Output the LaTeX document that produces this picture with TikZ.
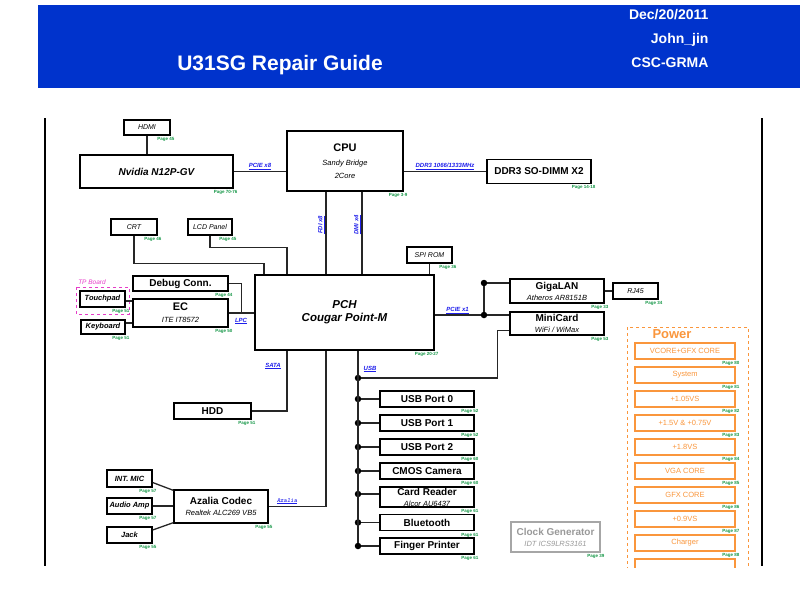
\documentclass[tikz,border=0pt]{standalone}
\usepackage{fontspec}
\setmainfont{Liberation Sans}
\usetikzlibrary{positioning, calc}
\definecolor{hdrblue}{RGB}{0,51,204}
\definecolor{pggreen}{RGB}{20,150,70}
\definecolor{pwrorange}{RGB}{250,150,60}
\definecolor{busblue}{RGB}{30,30,235}
\definecolor{tpmag}{RGB}{230,60,200}
\newcommand{\subt}[1]{{\fontsize{7.5}{8.5}\selectfont\mdseries\itshape #1}}
\tikzset{
  blk/.style    = {draw, line width=1.3pt, fill=white, inner sep=0pt,
                   align=center, font=\fontsize{10}{11}\selectfont\bfseries},
  small/.style  = {blk, font=\fontsize{7}{8}\selectfont\itshape},
  smallb/.style = {blk, font=\fontsize{7.5}{8}\selectfont\bfseries\itshape},
  pg/.style     = {font=\fontsize{4.5}{5}\selectfont\bfseries, text=pggreen,
                   inner sep=0pt, anchor=north east},
  bus/.style    = {font=\fontsize{6}{7}\selectfont\bfseries\itshape,
                   text=busblue, inner sep=1pt},
  wire/.style   = {line width=1.3pt, draw=black!85},
  jdot/.style   = {circle, fill=black, minimum size=6.5pt, inner sep=0pt},
  pwr/.style    = {draw=pwrorange, line width=1.1pt, fill=white,
                   minimum width=100pt, minimum height=16pt, inner sep=0pt,
                   font=\fontsize{7.5}{8}\selectfont, text=pwrorange},
  usbbox/.style = {blk, minimum width=94pt, minimum height=16pt},
}
\begin{document}
\begin{tikzpicture}[x=1pt, y=-1pt]
  \useasboundingbox (0,0) rectangle (800,600);

  % ---------------------------------------------------------------
  % header band
  % ---------------------------------------------------------------
  \fill[hdrblue] (38,5) rectangle (800,88);
  \node[font=\fontsize{21}{22}\selectfont\bfseries, text=white] (title)
    at (280,65) {U31SG Repair Guide};
  \node[font=\fontsize{14}{24}\selectfont\bfseries, text=white,
        align=right, anchor=east] (info) at (712,38)
    {Dec/20/2011\\John\_jin\\CSC-GRMA};

  % frame lines
  \draw[line width=1.3pt] (45,118) -- (45,566);
  \draw[line width=1.3pt] (762,118) -- (762,566);

  % ---------------------------------------------------------------
  % CPU / GPU / memory
  % ---------------------------------------------------------------
  \node[small, minimum width=46pt, minimum height=15pt] (hdmi) at (147,127.5) {HDMI};
  \node[blk, font=\fontsize{10}{11}\selectfont\bfseries\itshape,
        minimum width=153pt, minimum height=33pt] (gpu) at (156.5,171.5) {Nvidia N12P-GV};
  \node[blk, font=\fontsize{11}{12}\selectfont\bfseries,
        minimum width=116pt, minimum height=60pt] (cpu) at (345,161)
    {CPU\\[2pt]\subt{Sandy Bridge}\\[1pt]\subt{2Core}};
  \node[blk, minimum width=104pt, minimum height=24pt] (ddr) at (539,171.5) {DDR3 SO-DIMM X2};

  \draw[wire] (hdmi.south) -- (hdmi.south |- gpu.north);
  \draw[wire] (gpu.east) -- (gpu.east -| cpu.west)
    node[bus, midway, above] {\underline{PCIE x8}};
  \draw[wire] (cpu.east |- ddr.west) -- (ddr.west)
    node[bus, midway, above] {\underline{DDR3 1066/1333MHz}};

  % ---------------------------------------------------------------
  % PCH and its left side
  % ---------------------------------------------------------------
  \node[blk, font=\fontsize{11.5}{13}\selectfont\bfseries\itshape,
        minimum width=179pt, minimum height=75pt] (pch) at (344.5,312.5)
    {PCH\\Cougar Point-M};
  \node[small, minimum width=45pt, minimum height=16pt] (spi) at (429.5,255) {SPI ROM};
  \node[small, minimum width=46pt, minimum height=16pt] (crt) at (134,227) {CRT};
  \node[small, minimum width=44pt, minimum height=16pt] (lcd) at (210,227) {LCD Panel};
  \node[blk, minimum width=95pt, minimum height=15pt] (dbg) at (180.5,283.5) {Debug Conn.};
  \node[blk, font=\fontsize{11}{12}\selectfont\bfseries,
        minimum width=95pt, minimum height=28pt] (ec) at (180.5,313)
    {EC\\\subt{ITE IT8572}};
  \node[smallb, minimum width=45pt, minimum height=16pt] (tpad) at (102.5,299) {Touchpad};
  \node[smallb, minimum width=44pt, minimum height=14pt] (kbd) at (103,327) {Keyboard};
  \draw[tpmag, dashed, line width=0.6pt] (76,287) rectangle (129,314);
  \node[font=\fontsize{6.5}{7}\selectfont\itshape, text=tpmag, inner sep=0pt]
    (tpb) at (92,282) {TP Board};

  \draw[wire] ([xshift=-19pt]cpu.south) -- ([xshift=-19pt]cpu.south |- pch.north)
    node[bus, pos=0.4, left, rotate=90, anchor=south] {\underline{FDI x8}};
  \draw[wire] ([xshift=17pt]cpu.south) -- ([xshift=17pt]cpu.south |- pch.north)
    node[bus, pos=0.4, rotate=90, anchor=south] {\underline{DMI x4}};
  \draw[wire] (crt.south) -- ++(0,28) -| ([xshift=-80.5pt]pch.north);
  \draw[wire] (lcd.south) -- ++(0,12) -| ([xshift=-57.5pt]pch.north);
  \draw[wire] (spi.south) -- (spi.south |- pch.north);

  \coordinate (lpcj) at ($(ec.east)!0.5!(ec.east -| pch.west)$);
  \draw[wire] (ec.east) -- (ec.east -| pch.west);
  \draw[wire] (dbg.east) -| (lpcj);
  \node[bus] (lpc) at (241,321) {\underline{LPC}};
  \draw[wire] ([yshift=-2pt]tpad.east) -- ([yshift=-2pt]tpad.east -| ec.west);
  \draw[wire] ([yshift=4pt]kbd.east) -- ([yshift=4pt]kbd.east -| ec.west);

  % ---------------------------------------------------------------
  % right side: LAN / MiniCard
  % ---------------------------------------------------------------
  \node[blk, minimum width=94pt, minimum height=24pt] (lan) at (557,291)
    {GigaLAN\\\subt{Atheros AR8151B}};
  \node[small, minimum width=45pt, minimum height=16pt] (rj) at (635.5,291) {RJ45};
  \node[blk, minimum width=94pt, minimum height=23pt] (mini) at (557,323.5)
    {MiniCard\\\subt{WiFi / WiMax}};
  \node[jdot] (jA) at (484,283) {};
  \node[jdot] (jB) at (484,315) {};

  \draw[wire] (jB -| pch.east) -- (jB)
    node[bus, midway, above] {\underline{PCIE x1}};
  \draw[wire] (jB) -- (jA);
  \draw[wire] (jA) -- (jA -| lan.west);
  \draw[wire] (jB) -- (jB -| mini.west);
  \draw[wire] (lan.east) -- (rj.west);

  % ---------------------------------------------------------------
  % USB bus
  % ---------------------------------------------------------------
  \coordinate (usbtop) at ([xshift=13.5pt]pch.south);
  \node[jdot] (uj) at (358,378) {};
  \node[bus] (usb) at (370,369) {\underline{USB}};
  \draw[wire] ([yshift=-7pt]mini.west) -- ++(-12,0) |- (uj);

  \foreach \n/\y/\t in {u0/399/{USB Port 0}, u1/423/{USB Port 1},
                        u2/447/{USB Port 2}, u3/471/{CMOS Camera},
                        u5/522.5/{Bluetooth}, u6/546/{Finger Printer}} {
    \node[usbbox] (\n) at (427,\y) {\t};
    \node[jdot] (\n d) at (358,\y) {};
    \draw[wire] (\n d) -- (\n.west);
  }
  \node[usbbox, minimum height=20pt] (u4) at (427,497)
    {Card Reader\\\subt{Alcor AU6437}};
  \node[jdot] (u4d) at (358,494) {};
  \draw[wire] (u4d) -- (u4d -| u4.west);
  \draw[wire] (usbtop) -- (u6d);

  % ---------------------------------------------------------------
  % SATA / audio
  % ---------------------------------------------------------------
  \node[blk, minimum width=77pt, minimum height=16pt] (hdd) at (212.5,411) {HDD};
  \node[blk, minimum width=94pt, minimum height=33pt] (codec) at (221,506.5)
    {Azalia Codec\\\subt{Realtek ALC269 VB5}};
  \node[smallb, minimum width=45pt, minimum height=17pt] (mic) at (129.5,478.5) {INT. MIC};
  \node[smallb, minimum width=45pt, minimum height=16pt] (amp) at (129.5,506) {Audio Amp};
  \node[smallb, minimum width=45pt, minimum height=16pt] (jack) at (129.5,535) {Jack};

  \draw[wire] ([xshift=-57.5pt]pch.south) |- (hdd.east);
  \node[bus] (sata) at (273,366) {\underline{SATA}};
  \draw[wire] ([xshift=-18.5pt]pch.south) |- (codec.east);
  \node[bus, font=\fontsize{6.5}{7}\selectfont\ttfamily\bfseries\itshape] (aza) at (287,501) {\underline{Azalia}};
  \draw[wire] ([yshift=-4pt]mic.east) -- ([yshift=-1pt]codec.north west);
  \draw[wire] (amp.east) -- (amp.east -| codec.west);
  \draw[wire] ([yshift=5pt]jack.east) -- ([yshift=1pt]codec.south west);

  % clock generator
  \node[blk, draw=black!35, text=black!40, minimum width=89pt, minimum height=30pt]
    (clk) at (555.5,537) {Clock Generator\\\subt{IDT ICS9LRS3161}};

  % page references
  \foreach \n/\p in {hdmi/45, gpu/70-76, cpu/3-9, ddr/14-18, crt/46, lcd/45,
                     spi/36, dbg/44, ec/50, tpad/51, kbd/51, pch/20-27,
                     lan/33, rj/34, mini/53, u0/52, u1/52, u2/60, u3/60,
                     u4/61, u5/61, u6/61, hdd/51, codec/55, mic/57, amp/57,
                     jack/55, clk/39}
    \node[pg] at ([xshift=4pt,yshift=-1.5pt]\n.south east) {Page \p};

  % ---------------------------------------------------------------
  % power rails
  % ---------------------------------------------------------------
  \begin{scope}
    \clip (0,0) rectangle (800,567);
    \draw[pwrorange, dashed, line width=0.6pt] (627,327) rectangle (748,590);
    \node[font=\fontsize{13}{14}\selectfont\bfseries, text=pwrorange] (power)
      at (672,334) {Power};
    \foreach \t [count=\i] in {VCORE+GFX CORE, System, +1.05VS, +1.5V \& +0.75V,
                               +1.8VS, VGA CORE, GFX CORE, +0.9VS, Charger, {}} {
      \node[pwr] (p\i) at (685,{351+24*(\i-1)}) {\t};
      \node[pg] at ([xshift=4pt,yshift=-1.5pt]p\i.south east) {Page \the\numexpr79+\i\relax};
    }
  \end{scope}

\end{tikzpicture}
\end{document}
